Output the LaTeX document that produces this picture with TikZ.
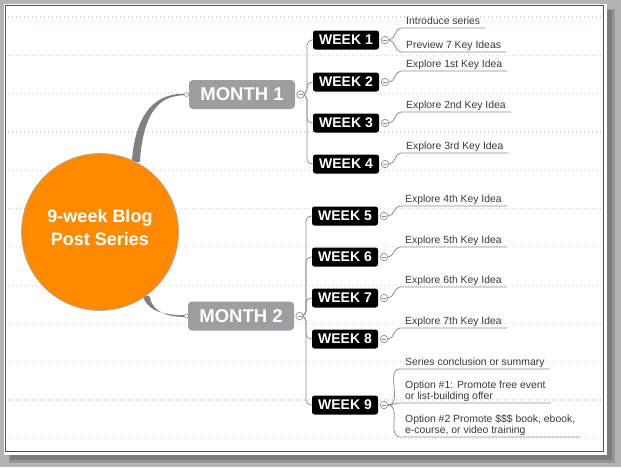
\documentclass[tikz,border=0pt]{standalone}
\usepackage{fontspec}
\setmainfont{Liberation Sans}
\pgfdeclarelayer{bg}
\pgfdeclarelayer{conn}
\pgfsetlayers{bg,conn,main}
\definecolor{orangec}{HTML}{FF8A00}
\definecolor{monthgray}{HTML}{9C9EA2}
\definecolor{linegray}{HTML}{8E8E8E}
\definecolor{curvegray}{HTML}{808080}
\definecolor{dotblue}{HTML}{C6D6F0}
\definecolor{leaftext}{HTML}{3A3A3A}
\definecolor{outergray}{HTML}{B4B4B4}
\definecolor{shadowgray}{HTML}{7C7C7C}
\definecolor{paneledge}{HTML}{505050}
\begin{document}
\begin{tikzpicture}[x=1pt,y=-1pt,
  weekbox/.style={fill=black, rounded corners=2.5pt, text=white,
    font=\fontsize{14}{14}\bfseries\selectfont, minimum width=66pt, minimum height=19pt, inner sep=0pt},
  monthbox/.style={fill=monthgray, rounded corners=4pt, text=white,
    font=\fontsize{18.5}{18.5}\bfseries\selectfont, minimum width=106pt, minimum height=29pt, inner sep=0pt},
  toggle/.style={circle, draw=linegray, fill=white, minimum size=7.5pt, inner sep=0pt, line width=0.7pt,
    path picture={\draw[linegray, line width=0.7pt] ([xshift=-2pt]path picture bounding box.center) -- ([xshift=2pt]path picture bounding box.center);}},
  dotend/.style={circle, draw=linegray, fill=white, minimum size=4pt, inner sep=0pt, line width=0.6pt},
  leaf/.style={anchor=south west, inner xsep=5pt, inner ysep=1pt, text depth=2.2pt,
    font=\fontsize{10.4}{11.5}\selectfont, text=leaftext, align=left},
  link/.style={draw=linegray, line width=0.8pt},
  dotline/.style={draw=dotblue, line width=1.2pt, dash pattern=on 1.3pt off 2.7pt}
]
\useasboundingbox (0,0) rectangle (621,467);
\begin{pgfonlayer}{bg}
  \fill[outergray] (0,0) rectangle (621,467);
  \fill[shadowgray!55!outergray] (9,9) rectangle (615,463);
  \fill[shadowgray] (10,10) rectangle (612,460);
  \fill[white] (3.5,3.5) rectangle (606.5,455);
  \draw[paneledge, line width=1pt] (5.5,5.5) rectangle (603.5,451.5);
  \foreach \k in {0,...,11} \draw[dotline] (8,{17+38.3*\k}) -- (601,{17+38.3*\k});
\end{pgfonlayer}

% central topic
\node[circle, fill=orangec, draw=gray!70, line width=0.6pt, minimum size=157pt, inner sep=0pt] (c) at (100,232) {};
\node[font=\fontsize{18}{23}\bfseries\selectfont, text=white, align=center] (ct) at (100,227.5) {9-week Blog\\Post Series};

% months
\node[monthbox] (m1) at (242,94.5) {MONTH 1};
\node[monthbox] (m2) at (241,316) {MONTH 2};
\node[dotend] (m1d) at (186.5,94.5) {};
\node[dotend] (m2d) at (186.5,316) {};
\node[toggle] (m1t) at (300.5,94.5) {};
\node[toggle] (m2t) at (299.5,316) {};
\coordinate (b1) at (307,94.5);
\coordinate (b2) at (306,316);

% weeks
\foreach \i/\y in {1/40,2/82,3/123,4/164} {
  \node[weekbox] (w\i) at (346,\y) {WEEK \i};
  \node[toggle] (t\i) at (385,\y) {};
}
\foreach \i/\y in {5/216,6/257,7/298,8/339,9/405} {
  \node[weekbox] (w\i) at (345,\y) {WEEK \i};
  \node[toggle] (t\i) at (384,\y) {};
}

% leaves
\node[leaf] (l1a) at (401,28) {Introduce series};
\node[leaf] (l1b) at (401,52) {Preview 7 Key Ideas};
\node[leaf] (l2) at (401,71) {Explore 1st Key Idea};
\node[leaf] (l3) at (401,112) {Explore 2nd Key Idea};
\node[leaf] (l4) at (401,153) {Explore 3rd Key Idea};
\node[leaf] (l5) at (400,206) {Explore 4th Key Idea};
\node[leaf] (l6) at (400,247) {Explore 5th Key Idea};
\node[leaf] (l7) at (400,287) {Explore 6th Key Idea};
\node[leaf] (l8) at (400,328) {Explore 7th Key Idea};
\node[leaf] (l9a) at (400,369) {Series conclusion or summary};
\node[leaf] (l9b) at (400,403) {Option \#1: Promote free event\\or list-building offer};
\node[leaf] (l9c) at (400,437) {Option \#2 Promote \$\$\$ book, ebook,\\e-course, or video training};

\begin{pgfonlayer}{conn}
  % tapered curves from the central topic
  \fill[curvegray] ([xshift=-4pt]c.63) .. controls (135,120) and (150,93.7) .. ([yshift=0.8pt]m1d.west)
     -- ([yshift=-0.8pt]m1d.west) .. controls (153,95.5) and (143,122) .. ([xshift=4pt]c.63) -- cycle;
  \fill[curvegray] ([xshift=-4pt,yshift=2pt]c.-54) .. controls (145,309) and (160,315.2) .. ([yshift=0.8pt]m2d.west)
     -- ([yshift=-0.8pt]m2d.west) .. controls (161,317.3) and (151,307) .. ([xshift=3.5pt,yshift=-1pt]c.-54) -- cycle;
  % brackets month -> weeks
  \foreach \i in {1,...,4} \draw[link, rounded corners=5pt] (m1t.east) -- (b1) |- (w\i.west);
  \foreach \i in {5,...,9} \draw[link, rounded corners=5pt] (m2t.east) -- (b2) |- (w\i.west);
  % week -> leaves
  \draw[link] (t1.east) to[out=0,in=180] (l1a.south west) -- (l1a.south east);
  \draw[link] (t1.east) to[out=0,in=180] (l1b.south west) -- (l1b.south east);
  \draw[link] (t2.east) to[out=0,in=180] (l2.south west) -- (l2.south east);
  \draw[link] (t3.east) to[out=0,in=180] (l3.south west) -- (l3.south east);
  \draw[link] (t4.east) to[out=0,in=180] (l4.south west) -- (l4.south east);
  \draw[link] (t5.east) to[out=0,in=180] (l5.south west) -- (l5.south east);
  \draw[link] (t6.east) to[out=0,in=180] (l6.south west) -- (l6.south east);
  \draw[link] (t7.east) to[out=0,in=180] (l7.south west) -- (l7.south east);
  \draw[link] (t8.east) to[out=0,in=180] (l8.south west) -- (l8.south east);
  \draw[link] (t9.east) to[out=0,in=180] (l9a.south west) -- (l9a.south east);
  \draw[link] (t9.east) to[out=0,in=180] (l9b.south west) -- (l9b.south east);
  \draw[link] (t9.east) to[out=0,in=180] (l9c.south west) -- (l9c.south east);
\end{pgfonlayer}
\end{tikzpicture}
\end{document}
